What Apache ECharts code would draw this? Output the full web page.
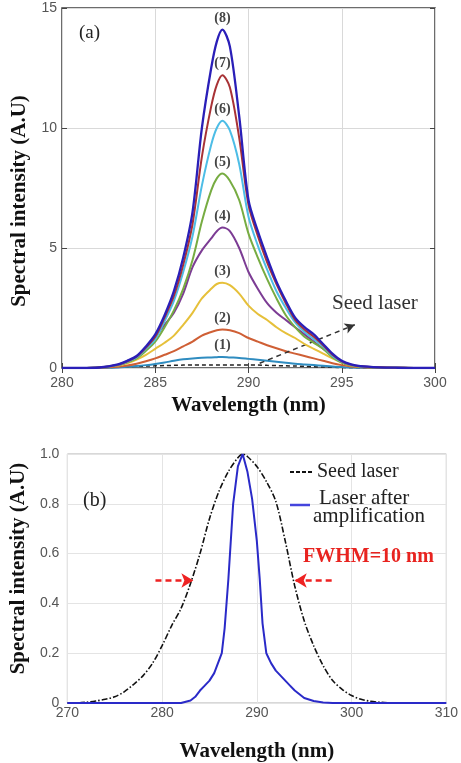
<!DOCTYPE html>
<html><head><meta charset="utf-8">
<script src="https://cdn.jsdelivr.net/npm/echarts/dist/echarts.min.js"></script>
<style>html,body{margin:0;padding:0;background:#fff}#c{width:461px;height:763px}</style>
</head><body><div id="c"></div>
<script>
// ---- Panel (a) data ----
const wlA = [280,281,282,283,283.5,284,284.5,285,285.5,286,286.5,287,287.5,288,288.3,288.6,289,289.5,290,290.5,291,291.5,292,292.5,293,293.5,294,294.5,295,295.5,296,297,298,299,300];
const curve1 = [0,0,0,0.02,0.05,0.08,0.12,0.17,0.23,0.3,0.36,0.4,0.43,0.44,0.45,0.46,0.44,0.42,0.38,0.34,0.3,0.26,0.22,0.18,0.15,0.12,0.09,0.06,0.04,0.02,0.01,0,0,0,0];
const curve2 = [0,0,0.01,0.05,0.1,0.18,0.28,0.4,0.55,0.7,0.9,1.1,1.35,1.5,1.57,1.6,1.57,1.45,1.25,1.1,0.95,0.82,0.7,0.6,0.5,0.4,0.3,0.2,0.12,0.06,0.03,0.01,0,0,0];
const curve3 = [0,0,0.02,0.1,0.2,0.35,0.55,0.8,1.05,1.35,1.8,2.3,2.9,3.3,3.5,3.55,3.45,3.1,2.6,2.25,2.0,1.7,1.45,1.25,1.0,0.8,0.6,0.4,0.22,0.1,0.05,0.02,0.01,0,0];
const curve4 = [0,0,0.02,0.12,0.25,0.45,0.8,1.3,1.8,2.3,3.1,4.2,4.9,5.4,5.7,5.85,5.7,5.0,4.0,3.3,2.7,2.3,2.0,1.7,1.4,1.1,0.8,0.5,0.25,0.12,0.06,0.02,0.01,0,0];
const curve5 = [0,0,0.02,0.12,0.24,0.4,0.72,1.1,1.7,2.4,3.3,4.5,6.1,7.4,7.9,8.1,7.8,7.0,5.6,4.6,3.7,2.9,2.2,1.7,1.3,1.05,0.8,0.45,0.23,0.11,0.05,0.02,0.01,0,0];
const curve6 = [0,0,0.02,0.13,0.26,0.44,0.8,1.2,1.95,2.8,4.0,5.5,7.6,9.3,10.0,10.3,9.9,8.5,6.3,5.1,4.1,3.2,2.5,1.9,1.5,1.2,0.9,0.5,0.26,0.13,0.06,0.03,0.01,0,0];
const curve7 = [0,0,0.02,0.14,0.28,0.47,0.85,1.3,2.1,3.0,4.3,6.0,8.8,10.9,11.8,12.2,11.7,9.6,6.8,5.5,4.4,3.5,2.7,2.0,1.6,1.3,0.95,0.55,0.28,0.14,0.07,0.03,0.01,0,0];
const curve8 = [0,0,0.02,0.15,0.3,0.5,0.9,1.4,2.2,3.2,4.6,6.5,10.0,12.5,13.6,14.1,13.4,10.5,7.0,5.7,4.6,3.6,2.8,2.1,1.7,1.4,1.0,0.6,0.3,0.15,0.08,0.03,0.01,0,0];
const seedA = [0,0,0.01,0.03,0.05,0.07,0.08,0.09,0.1,0.11,0.12,0.12,0.13,0.13,0.13,0.13,0.13,0.13,0.12,0.12,0.11,0.1,0.09,0.08,0.07,0.05,0.04,0.03,0.02,0.01,0.005,0,0,0,0];
const curvesA = [curve1,curve2,curve3,curve4,curve5,curve6,curve7,curve8];
const peakLabels = ['(1)','(2)','(3)','(4)','(5)','(6)','(7)','(8)'];
const colorsA = ['#2f8cc0','#cf5f35','#e6c03a','#7c3c94','#77ac42','#4dbde6','#a83236','#2a1fb8'];
const xTicksA = [280,300,5];
const yTicksA = [0,15,5];
const seedArrowA = [[290.6,0.2],[295.7,1.8]];

// ---- Panel (b) data ----
const wlSeedB = [270,271,272,273,274,275,276,277,278,279,280,281,282,283,284,285,286,287,288,288.5,289,290,291,292,293,294,295,296,297,298,299,300,301,302,303,304,305,306,307,308,309,310];
const seedB = [0,0,0.003,0.008,0.015,0.025,0.045,0.075,0.11,0.16,0.23,0.31,0.38,0.48,0.6,0.74,0.85,0.93,0.985,1.0,0.99,0.95,0.89,0.81,0.65,0.47,0.33,0.23,0.15,0.09,0.055,0.03,0.015,0.007,0.003,0.001,0,0,0,0,0,0];
const wlAmpB = [270,280,282,283,283.5,284,284.5,285,285.5,286,286.3,286.6,287,287.5,288,288.5,289,289.5,290,290.3,290.6,291,291.5,292,292.5,293,293.5,294,294.5,295,296,297,298,310];
const ampB = [0,0,0,0.01,0.025,0.05,0.07,0.09,0.12,0.17,0.2,0.3,0.5,0.8,0.95,1.0,0.93,0.82,0.65,0.5,0.32,0.2,0.16,0.13,0.11,0.09,0.07,0.05,0.035,0.02,0.008,0.002,0,0];
const xTicksB = [270,310,10];
const yTicksB = [0,1,0.2];
const fwhmArrowsB = [[[279.3,0.492],[283.3,0.492]],[[297.9,0.492],[294.0,0.492]]];

const zip = (xs, ys) => xs.map((x,i)=>[x, ys[i]]);
const serif = 'Liberation Serif';
const sans = 'Liberation Sans';

const chart = echarts.init(document.getElementById('c'), null, {renderer:'canvas'});

const seriesA = curvesA.map((c,i)=>({
  type:'line', name:'curve'+(i+1), xAxisIndex:0, yAxisIndex:0,
  data: zip(wlA, c), smooth:0.3, showSymbol:false, symbol:'none',
  lineStyle:{color:colorsA[i], width: i===7 ? 2.3 : 2},
  itemStyle:{color:colorsA[i]},
  z: 3 + i,
  markPoint:{
    symbol:'circle', symbolSize:1, itemStyle:{color:'rgba(0,0,0,0)'},
    data:[{type:'max'}],
    label:{show:true, position:'top', distance:4, formatter: peakLabels[i],
      fontFamily:serif, fontSize:14, fontWeight:'bold', color:'#444'}
  }
}));

const nameStyle = {fontFamily:serif, fontSize:21, fontWeight:'bold', color:'#111'};

const option = {
  animation:false,
  backgroundColor:'#fff',
  grid:[
    {left:62, top:8, width:373, height:360, show:true, borderColor:'#3c3c3c', borderWidth:1.5, backgroundColor:'transparent'},
    {left:66, top:454, width:382, height:250, show:true, borderColor:'#b0b0b0', borderWidth:1, backgroundColor:'transparent'}
  ],
  xAxis:[
    {gridIndex:0, type:'value', min:xTicksA[0], max:xTicksA[1], interval:xTicksA[2],
     axisLine:{show:false}, axisTick:{show:true, inside:true, length:5, lineStyle:{color:'#444'}},
     axisLabel:{color:'#555', fontFamily:sans, fontSize:14, margin:8},
     splitLine:{show:true, lineStyle:{color:'#d9d9d9', width:1}},
     name:'Wavelength (nm)', nameLocation:'middle', nameGap:27, nameTextStyle:nameStyle},
    {gridIndex:0, type:'value', position:'top', min:xTicksA[0], max:xTicksA[1], interval:xTicksA[2],
     axisLine:{show:false}, axisTick:{show:true, inside:true, length:5, lineStyle:{color:'#444'}},
     axisLabel:{show:false}, splitLine:{show:false}},
    {gridIndex:1, type:'value', min:xTicksB[0], max:xTicksB[1], interval:xTicksB[2],
     axisLine:{show:false}, axisTick:{show:false},
     axisLabel:{color:'#555', fontFamily:sans, fontSize:14, margin:3},
     splitLine:{show:true, lineStyle:{color:'#e4e4e4', width:1}},
     name:'Wavelength (nm)', nameLocation:'middle', nameGap:38, nameTextStyle:nameStyle}
  ],
  yAxis:[
    {gridIndex:0, type:'value', min:yTicksA[0], max:yTicksA[1], interval:yTicksA[2],
     axisLine:{show:false}, axisTick:{show:true, inside:true, length:5, lineStyle:{color:'#444'}},
     axisLabel:{color:'#555', fontFamily:sans, fontSize:14, margin:5},
     splitLine:{show:true, lineStyle:{color:'#d9d9d9', width:1}},
     name:'Spectral intensity (A.U)', nameLocation:'middle', nameGap:29, nameRotate:90,
     nameTextStyle:Object.assign({padding:[0,26,0,0]}, nameStyle)},
    {gridIndex:0, type:'value', position:'right', min:yTicksA[0], max:yTicksA[1], interval:yTicksA[2],
     axisLine:{show:false}, axisTick:{show:true, inside:true, length:5, lineStyle:{color:'#444'}},
     axisLabel:{show:false}, splitLine:{show:false}},
    {gridIndex:1, type:'value', min:yTicksB[0], max:yTicksB[1], interval:yTicksB[2],
     axisLine:{show:false}, axisTick:{show:false},
     axisLabel:{color:'#555', fontFamily:sans, fontSize:14, margin:8,
       formatter: v => v === 0 ? '0' : v.toFixed(1)},
     splitLine:{show:true, lineStyle:{color:'#e4e4e4', width:1}},
     name:'Spectral intensity (A.U)', nameLocation:'middle', nameGap:35, nameRotate:90,
     nameTextStyle:Object.assign({padding:[0,0,0,20]}, nameStyle)}
  ],
  series:[
    {type:'line', name:'Seed laser (a)', xAxisIndex:0, yAxisIndex:0, data:zip(wlA, seedA),
     smooth:0.3, symbol:'none', z:2,
     lineStyle:{color:'#222', width:1.5, type:[4,3]},
     markLine:{silent:true, symbol:['none','arrow'], symbolSize:[8,10],
       label:{show:false},
       lineStyle:{color:'#333', width:1.5, type:[5,4]},
       data:[[{coord:seedArrowA[0]},{coord:seedArrowA[1]}]]}},
    ...seriesA,
    {type:'line', name:'Seed laser', xAxisIndex:2, yAxisIndex:2, data:zip(wlSeedB, seedB),
     smooth:0.3, symbol:'none', z:3,
     lineStyle:{color:'#111', width:1.6, type:[6,2,1.5,2]},
     markLine:{silent:true, symbol:['none','arrow'], symbolSize:[11,12],
       label:{show:false},
       lineStyle:{color:'#ee2222', width:2.5, type:[6,4]},
       data: fwhmArrowsB.map(a => [{coord:a[0]},{coord:a[1]}])}},
    {type:'line', name:'Laser after amplification', xAxisIndex:2, yAxisIndex:2, data:zip(wlAmpB, ampB),
     smooth:false, symbol:'none', z:4,
     lineStyle:{color:'#2a2ac8', width:2}}
  ],
  graphic:[
    {type:'text', z:100, left:79, top:24, style:{text:'(a)', font:'19px "Liberation Serif"', fill:'#222'}},
    {type:'text', z:100, left:332, top:293, style:{text:'Seed laser', font:'21px "Liberation Serif"', fill:'#333'}},
    {type:'text', z:100, left:83, top:491, style:{text:'(b)', font:'20px "Liberation Serif"', fill:'#222'}},
    {type:'line', z:100, shape:{x1:290, y1:472, x2:312, y2:472}, style:{stroke:'#111', lineWidth:1.8, lineDash:[4,2]}},
    {type:'text', z:100, left:317, top:462, style:{text:'Seed laser', font:'20px "Liberation Serif"', fill:'#222'}},
    {type:'line', z:100, shape:{x1:290, y1:505, x2:310, y2:505}, style:{stroke:'#4444dd', lineWidth:2.5}},
    {type:'text', z:100, left:319, top:488, style:{text:'Laser after', font:'21px "Liberation Serif"', fill:'#222'}},
    {type:'text', z:100, left:313, top:506, style:{text:'amplification', font:'21px "Liberation Serif"', fill:'#222'}},
    {type:'text', z:100, left:303, top:547, style:{text:'FWHM=10 nm', font:'bold 20px "Liberation Serif"', fill:'#e8231f'}}
  ]
};
chart.setOption(option);
</script>
</body></html>
